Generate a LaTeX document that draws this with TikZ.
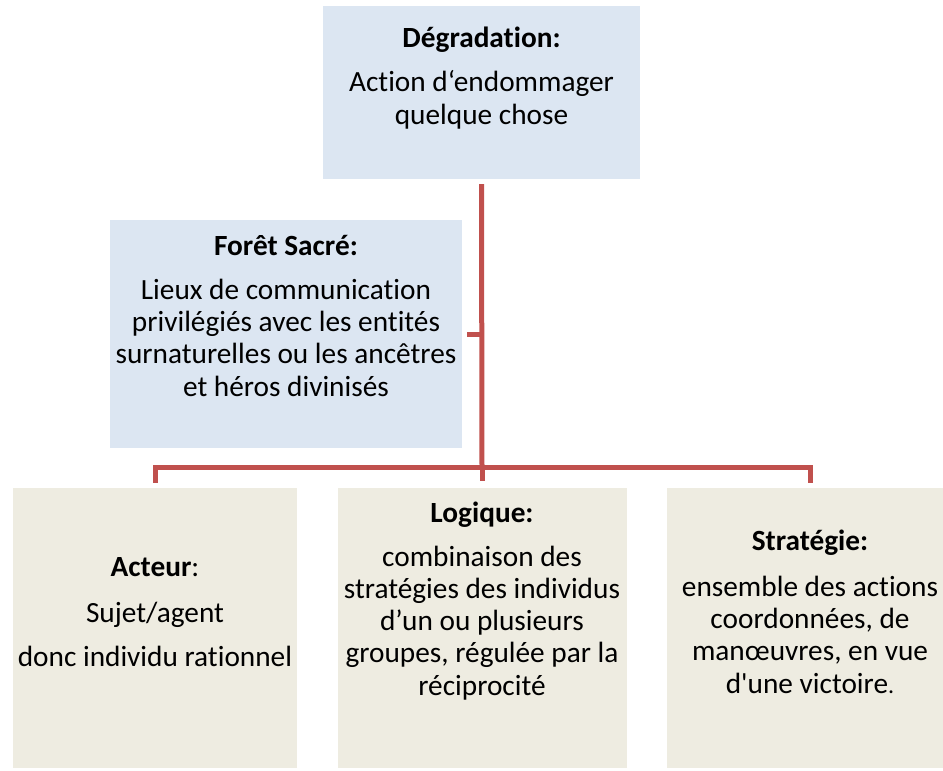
\documentclass[tikz,border=0pt]{standalone}
\usepackage{fontspec}
\setmainfont{Carlito}[Ligatures={TeXOff,CommonOff}]
\definecolor{boxblue}{HTML}{DCE6F2}
\definecolor{boxbeige}{HTML}{EEECE1}
\definecolor{linered}{HTML}{C0504D}
\begin{document}
\begin{tikzpicture}[x=1pt,y=-1pt,
  bluebox/.style={fill=boxblue,draw=none,inner sep=0pt},
  beigebox/.style={fill=boxbeige,draw=none,inner sep=0pt},
  txt/.style={align=center,inner sep=0pt,font=\fontsize{29.3}{32.2}\selectfont},
  conn/.style={draw=linered,line width=5pt}]
\useasboundingbox (0,0) rectangle (943,771);
\begin{scope}
\clip (0,0) rectangle (943,771);
% boxes
\node[bluebox,minimum width=317pt,minimum height=173pt] (top) at (481.5,92.5) {};
\node[bluebox,minimum width=352pt,minimum height=228pt] (foret) at (286,334) {};
\node[beigebox,minimum width=284pt,minimum height=280pt] (acteur) at (155,628) {};
\node[beigebox,minimum width=289pt,minimum height=280pt] (logique) at (482,628) {};
\node[beigebox,minimum width=286pt,minimum height=280pt] (strat) at (810,628) {};
% texts (multi-line nodes: base = last line)
\node[txt,anchor=base] (t1) at (481.5,47) {\textbf{Dégradation:}};
\node[txt,anchor=base] (t2) at (481.5,124) {Action d‘endommager\\quelque chose};
\node[txt,anchor=base] (f1) at (286,255) {\textbf{Forêt Sacré:}};
\node[txt,anchor=base] (f2) at (286,396) {Lieux de communication\\privilégiés avec les entités\\surnaturelles ou les ancêtres\\et héros divinisés};
\node[txt,anchor=base] (a1) at (155,576) {\textbf{Acteur}:};
\node[txt,anchor=base] (a2) at (155,622) {Sujet/agent};
\node[txt,anchor=base] (a3) at (155,666) {donc individu rationnel};
\node[txt,anchor=base] (l1) at (482,522) {\textbf{Logique:}};
\node[txt,anchor=base] (l2) at (482,695) {combinaison des\\stratégies des individus\\d’un ou plusieurs\\groupes, régulée par la\\réciprocité};
\node[txt,anchor=base] (s1) at (810,550) {\textbf{Stratégie:}};
\node[txt,anchor=base] (s2) at (810,693) {ensemble des actions\\coordonnées, de\\manœuvres, en vue\\d'une victoire{\fontsize{24}{32}\selectfont.}};
% connectors
\coordinate (J) at (482,467);
\draw[conn] ([yshift=-5pt]top.south) -- (J);
\draw[conn] ([xshift=5pt]foret.east) -- (foret.east -| J);
\draw[conn,line cap=rect] ([yshift=7pt]acteur.north) |- (J) -| ([yshift=7pt]strat.north);
\draw[conn] (J) -- ([yshift=7pt]logique.north);
\end{scope}
\end{tikzpicture}
\end{document}
